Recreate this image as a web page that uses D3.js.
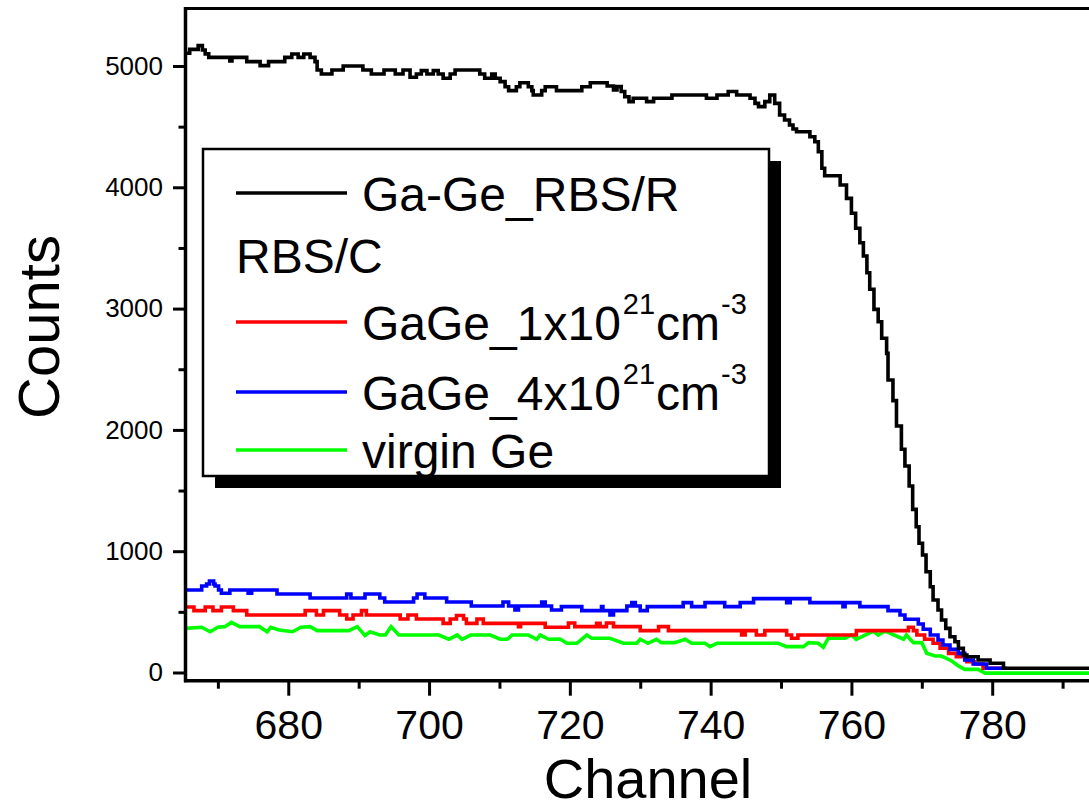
<!DOCTYPE html>
<html><head><meta charset="utf-8">
<script src="https://cdn.jsdelivr.net/npm/d3@7"></script>
<style>
body{margin:0;background:#fff}
svg{display:block}
text{font-family:"Liberation Sans",Arial,Helvetica,sans-serif;fill:#000}
</style>
</head><body>
<svg id="chart" width="1089" height="809"></svg>
<script>
// ---------- data ----------
const xMajorTicks = [680, 700, 720, 740, 760, 780];
const xMinorTicks = [670, 690, 710, 730, 750, 770, 790];
const yMajorTicks = [0, 1000, 2000, 3000, 4000, 5000];
const yMinorTicks = [500, 1500, 2500, 3500, 4500];
const xTitle = "Channel";
const yTitle = "Counts";

// [channel, counts] – Ga-Ge RBS/R (random)
const gaGeRandom = [
[665.4,5105],[666.0,5137],[667.2,5168],[667.8,5132],[668.2,5100],[668.7,5071],[671.7,5041],[672.0,5071],
[674.1,5036],[676.0,5003],[677.2,5036],[679.5,5071],[680.5,5099],[681.4,5071],[682.2,5099],[683.1,5071],
[683.8,5036],[684.1,4967],[684.7,4934],[686.2,4967],[687.8,5000],[690.6,4967],[691.8,4934],[693.6,4967],
[695.2,4934],[696.3,4967],[697.3,4907],[698.2,4934],[698.9,4962],[699.7,4934],[700.6,4962],[701.3,4934],
[702.0,4899],[703.0,4934],[703.7,4967],[707.2,4934],[707.9,4899],[708.9,4934],[709.4,4899],[710.1,4871],
[710.8,4829],[711.3,4797],[712.4,4829],[712.9,4862],[714.1,4829],[714.6,4797],[714.8,4761],[716.0,4797],
[716.5,4829],[718.1,4797],[721.7,4829],[722.9,4862],[725.3,4835],[726.2,4802],[726.7,4830],[727.3,4790],
[727.8,4747],[728.4,4706],[729.0,4734],[730.9,4706],[731.9,4734],[734.5,4761],[739.4,4734],[740.9,4761],
[742.5,4790],[743.7,4761],[745.6,4734],[746.3,4692],[746.8,4665],[747.7,4706],[748.4,4761],[749.1,4692],
[749.8,4596],[750.5,4555],[751.2,4514],[751.7,4480],[752.2,4458],[754.1,4417],[754.8,4376],[755.3,4293],
[755.8,4157],[756.2,4095],[758.4,4019],[759.3,3909],[760.0,3786],[760.6,3662],[761.2,3543],[761.7,3434],
[762.2,3296],[762.6,3159],[763.2,2994],[763.8,2892],[764.3,2755],[765.0,2631],[765.2,2411],[765.9,2241],
[766.4,2032],[767.1,1840],[767.6,1702],[768.2,1538],[768.7,1345],[769.2,1202],[769.6,1065],[770.1,969],
[770.6,831],[771.2,707],[771.6,598],[772.3,515],[772.8,433],[773.4,364],[774.0,295],[774.7,254],
[775.2,200],[775.9,144],[776.4,130],[778.0,103],[779.7,76],[781.6,35],[800.0,35]
];

// RBS/C GaGe 1x10^21 cm^-3
const gaGe1e21 = [
[665.4,540],[666.6,510],[668.2,540],[669.3,510],[670.5,540],[672.2,510],[674.1,474],[682.4,510],
[684.0,474],[685.0,510],[687.3,474],[688.3,441],[689.2,474],[690.4,510],[691.1,474],[695.9,441],
[697.0,474],[698.2,441],[702.0,405],[703.0,441],[703.9,470],[704.9,441],[705.3,405],[706.8,441],
[707.7,405],[712.7,378],[713.0,405],[716.5,373],[719.8,408],[720.7,378],[723.8,405],[724.3,378],
[725.2,408],[726.2,378],[730.0,345],[732.6,378],[734.0,345],[744.4,309],[744.9,345],[746.5,309],
[747.7,345],[750.8,309],[751.5,282],[752.4,309],[760.7,345],[768.1,373],[768.8,345],[769.3,309],
[770.4,274],[771.6,241],[772.6,200],[773.8,158],[774.9,130],[776.4,89],[777.5,70],[778.7,35],[781.5,35]
];

// RBS/C GaGe 4x10^21 cm^-3
const gaGe4e21 = [
[665.4,680],[667.7,713],[668.4,730],[668.8,754],[669.4,730],[669.6,713],[670.1,680],[670.5,653],
[671.7,680],[674.3,653],[674.8,680],[678.4,647],[683.1,614],[688.3,647],[688.9,614],[690.9,647],
[693.0,614],[693.7,581],[697.8,614],[698.3,647],[699.4,614],[702.5,581],[706.0,548],[710.5,581],
[711.3,548],[712.2,515],[712.7,548],[716.0,581],[716.5,548],[717.4,515],[718.8,543],[721.7,510],
[724.5,543],[724.7,510],[725.7,474],[726.2,510],[728.1,548],[728.8,576],[729.3,548],[730.0,510],
[731.0,543],[736.1,576],[737.3,543],[739.2,576],[742.0,543],[744.2,576],[746.1,609],[750.8,576],
[751.3,609],[754.1,576],[758.8,543],[759.1,576],[761.2,543],[765.2,510],[766.9,474],[767.6,439],
[769.5,400],[770.2,356],[771.2,309],[772.3,268],[773.0,227],[774.0,191],[775.2,158],[776.1,103],
[777.3,70],[779.2,35],[781.8,35]
];

// RBS/C virgin Ge
const virginGe = [
[665.4,364],[667.7,373],[668.9,336],[670.0,373],[671.0,378],[671.9,413],[673.1,378],[675.9,378],
[677.0,336],[677.5,373],[678.7,350],[680.6,336],[681.8,373],[683.1,378],[684.1,345],[688.6,345],
[689.8,378],[690.9,304],[691.6,336],[693.0,309],[693.8,309],[694.6,378],[695.7,309],[701.4,309],
[702.8,274],[704.0,309],[704.7,274],[705.9,309],[708.7,309],[710.1,274],[711.1,274],[711.8,309],
[714.1,309],[715.3,274],[715.8,309],[717.0,274],[718.6,276],[719.6,241],[721.0,241],[722.4,309],
[723.1,282],[725.7,282],[727.6,241],[729.5,241],[730.0,274],[731.1,241],[732.3,274],[733.0,246],
[734.9,246],[736.4,274],[737.3,241],[739.2,241],[739.9,213],[740.9,241],[749.6,241],[750.8,213],
[753.2,213],[753.9,246],[755.3,241],[756.0,208],[756.7,282],[759.1,282],[760.0,309],[760.7,274],
[763.1,342],[763.8,309],[764.8,342],[767.4,274],[767.8,309],[768.8,246],[770.0,246],[770.7,158],
[771.9,136],[772.8,136],[774.2,97],[775.2,54],[776.1,26],[778.0,26],[779.0,-5],[800.0,-5]
];

const series = [
  {name:"Ga-Ge_RBS/R", data:gaGeRandom, color:"#000000", step:true},
  {name:"GaGe_1x10|21|cm|-3", data:gaGe1e21, color:"#ff0000", step:true},
  {name:"GaGe_4x10|21|cm|-3", data:gaGe4e21, color:"#0000ff", step:true},
  {name:"virgin Ge", data:virginGe, color:"#00ff00", step:false}
];
const xDomain = [665.4, 800];
const yDomain = [-67.6, 5474];

// ---------- layout ----------
const svg = d3.select("#chart");
const L = 185.5, R = 1133, T = 8.5, B = 680.7;
const x = d3.scaleLinear().domain(xDomain).range([L, R]);
const y = d3.scaleLinear().domain(yDomain).range([B, T]);

svg.append("defs").append("clipPath").attr("id","plotclip")
  .append("rect").attr("x",L).attr("y",T).attr("width",R-L).attr("height",B-T);

// data lines
const plot = svg.append("g").attr("clip-path","url(#plotclip)");
[series[3], series[1], series[2], series[0]].forEach(s => {
  const line = d3.line().x(d=>x(d[0])).y(d=>y(d[1]))
    .curve(s.step ? d3.curveStepAfter : d3.curveLinear);
  plot.append("path").datum(s.data).attr("d", line)
    .attr("fill","none").attr("stroke", s.color)
    .attr("stroke-width", 3.6).attr("stroke-linejoin","miter").attr("stroke-linecap","square");
});

// axes
const xAxisMajor = d3.axisBottom(x).tickValues(xMajorTicks).tickSize(15).tickPadding(12).tickFormat(d3.format("d"));
const xAxisMinor = d3.axisBottom(x).tickValues(xMinorTicks).tickSize(8).tickFormat("");
const yAxisMajor = d3.axisLeft(y).tickValues(yMajorTicks).tickSize(12.5).tickPadding(10).tickFormat(d3.format("d"));
const yAxisMinor = d3.axisLeft(y).tickValues(yMinorTicks).tickSize(7).tickFormat("");

function styleAxis(g, fs){
  g.select(".domain").remove();
  g.selectAll(".tick line").attr("stroke","#000").attr("stroke-width",3);
  g.selectAll(".tick text").attr("font-size",fs).attr("fill","#000")
    .style("font-family",'"Liberation Sans",Arial,sans-serif');
}
const gx = svg.append("g").attr("transform",`translate(0,${B})`).call(xAxisMajor).call(g=>styleAxis(g,"41px"));
gx.selectAll(".tick text").attr("dy",null).attr("y",58);
svg.append("g").attr("transform",`translate(0,${B})`).call(xAxisMinor).call(g=>styleAxis(g,"0px"));
svg.append("g").attr("transform",`translate(${L},0)`).call(yAxisMajor).call(g=>styleAxis(g,"26px"));
svg.append("g").attr("transform",`translate(${L},0)`).call(yAxisMinor).call(g=>styleAxis(g,"0px"));

// frame lines
svg.append("line").attr("x1",L-1.5).attr("x2",1095).attr("y1",T).attr("y2",T).attr("stroke","#000").attr("stroke-width",3);
svg.append("line").attr("x1",L).attr("x2",L).attr("y1",T-1.5).attr("y2",B+1.5).attr("stroke","#000").attr("stroke-width",3.5);
svg.append("line").attr("x1",L-1.5).attr("x2",1095).attr("y1",B).attr("y2",B).attr("stroke","#000").attr("stroke-width",3.5);

// axis titles
svg.append("text").attr("x",648).attr("y",798).attr("text-anchor","middle")
  .attr("font-size","56px").text(xTitle);
svg.append("text").attr("transform","translate(59,327) rotate(-90)").attr("text-anchor","middle")
  .attr("font-size","58px").text(yTitle);

// legend
const lg = svg.append("g");
const bx = 203, by = 149, bw = 566, bh = 327, sh = 12;
lg.append("rect").attr("x",bx+sh).attr("y",by+sh).attr("width",bw).attr("height",bh).attr("fill","#000");
lg.append("rect").attr("x",bx).attr("y",by).attr("width",bw).attr("height",bh)
  .attr("fill","#fff").attr("stroke","#000").attr("stroke-width",2.5);

const rows = [
  {s:series[0], ly:193, ty:211},
  {header:"RBS/C", ty:273},
  {s:series[1], ly:322, ty:340},
  {s:series[2], ly:392, ty:410},
  {s:series[3], ly:450, ty:468}
];
rows.forEach(r => {
  if (r.header){
    lg.append("text").attr("x",236).attr("y",r.ty).attr("font-size","48px").text(r.header);
    return;
  }
  lg.append("line").attr("x1",236).attr("x2",347).attr("y1",r.ly).attr("y2",r.ly)
    .attr("stroke",r.s.color).attr("stroke-width",3.6);
  const t = lg.append("text").attr("x",362).attr("y",r.ty).attr("font-size","48px");
  const parts = r.s.name.split("|");
  if (parts.length === 1){ t.text(parts[0]); }
  else {
    t.append("tspan").text(parts[0]);
    t.append("tspan").attr("font-size","29px").attr("dy",-26).attr("dx",2).text(parts[1]);
    t.append("tspan").attr("font-size","48px").attr("dy",26).attr("dx",1).text(parts[2]);
    t.append("tspan").attr("font-size","29px").attr("dy",-26).attr("dx",1).text(parts[3]);
  }
});
</script>
</body></html>
